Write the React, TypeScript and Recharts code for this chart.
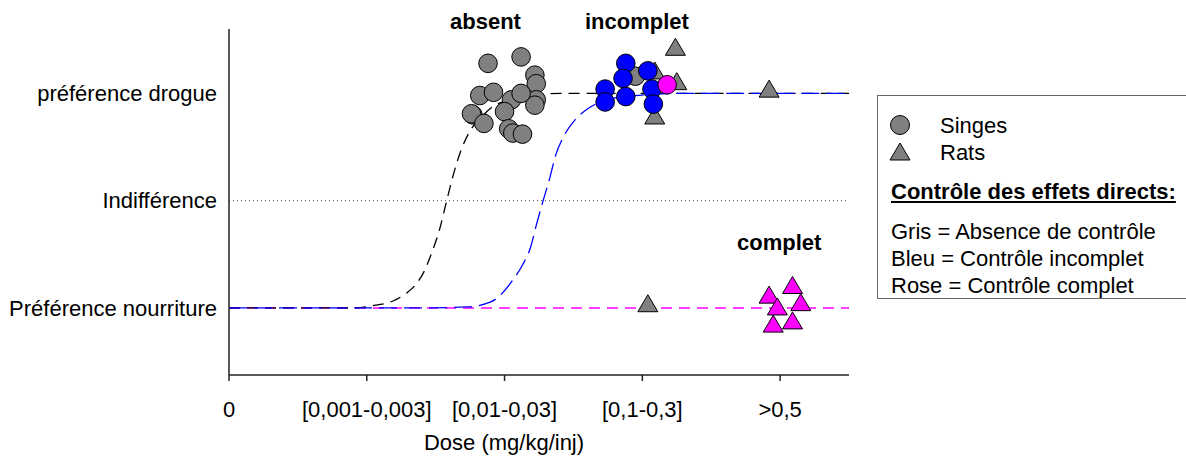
import React from "react";
import { ComposedChart, XAxis, YAxis, Scatter, Line, ReferenceLine } from "recharts";

const FONT = "'Liberation Sans', Arial, sans-serif";

// axes
const doseLabels = ["0", "[0,001-0,003]", "[0,01-0,03]", "[0,1-0,3]", ">0,5"];
const prefLabels = ["Préférence nourriture", "Indifférence", "préférence drogue"];

// singes - contrôle absent (gris)
const singesGris = [
  { x: 1.88, y: 2.28 }, { x: 2.12, y: 2.34 }, { x: 2.22, y: 2.17 }, { x: 2.23, y: 2.09 },
  { x: 2.23, y: 1.94 }, { x: 2.22, y: 1.89 }, { x: 1.82, y: 1.98 }, { x: 1.92, y: 2.01 },
  { x: 2.05, y: 1.94 }, { x: 2.12, y: 2.0 }, { x: 1.77, y: 1.8 }, { x: 1.76, y: 1.81 },
  { x: 1.85, y: 1.72 }, { x: 2.0, y: 1.83 }, { x: 2.03, y: 1.67 }, { x: 2.06, y: 1.63 },
  { x: 2.13, y: 1.62 }, { x: 2.95, y: 2.16 },
];
// singes - contrôle incomplet (bleu)
const singesBleu = [
  { x: 2.88, y: 2.28 }, { x: 2.86, y: 2.14 }, { x: 2.73, y: 2.04 }, { x: 2.73, y: 1.92 },
  { x: 2.88, y: 1.97 }, { x: 3.04, y: 2.21 }, { x: 3.07, y: 2.04 }, { x: 3.08, y: 1.9 },
];
// singes - contrôle complet (rose)
const singesRose = [{ x: 3.18, y: 2.08 }];
// rats
const ratsGris = [
  { x: 3.24, y: 2.42 }, { x: 3.25, y: 2.1 }, { x: 3.09, y: 2.2 }, { x: 3.09, y: 1.78 },
  { x: 3.92, y: 2.03 }, { x: 3.04, y: 0.03 },
];
const ratsRose = [
  { x: 4.09, y: 0.2 }, { x: 3.92, y: 0.11 }, { x: 4.15, y: 0.04 }, { x: 3.98, y: 0.0 },
  { x: 3.95, y: -0.16 }, { x: 4.09, y: -0.13 },
];

// courbes
const courbeGris = [
  { x: 0, y: 0 }, { x: 0.88, y: 0 }, { x: 1.04, y: 0.02 }, { x: 1.19, y: 0.065 },
  { x: 1.29, y: 0.14 }, { x: 1.35, y: 0.21 }, { x: 1.42, y: 0.35 }, { x: 1.47, y: 0.51 },
  { x: 1.53, y: 0.74 }, { x: 1.58, y: 1.0 }, { x: 1.63, y: 1.25 }, { x: 1.69, y: 1.49 },
  { x: 1.75, y: 1.65 }, { x: 1.84, y: 1.79 }, { x: 1.93, y: 1.89 }, { x: 2.04, y: 1.94 },
  { x: 2.19, y: 1.98 }, { x: 2.4, y: 2.0 }, { x: 4.5, y: 2.0 },
];
const courbeBleu = [
  { x: 0, y: 0 }, { x: 1.39, y: 0 }, { x: 1.73, y: 0.01 }, { x: 1.9, y: 0.056 },
  { x: 1.97, y: 0.12 }, { x: 2.06, y: 0.26 }, { x: 2.13, y: 0.4 }, { x: 2.19, y: 0.57 },
  { x: 2.23, y: 0.77 }, { x: 2.28, y: 1.0 }, { x: 2.33, y: 1.22 }, { x: 2.37, y: 1.42 },
  { x: 2.43, y: 1.6 }, { x: 2.51, y: 1.75 }, { x: 2.62, y: 1.87 }, { x: 2.73, y: 1.935 },
  { x: 2.88, y: 1.97 }, { x: 3.06, y: 1.99 }, { x: 3.27, y: 2.0 }, { x: 4.5, y: 2.0 },
];

const GRIS = "#808080";
const BLEU = "#0000ff";
const ROSE = "#ff00ff";

const rond = (fill: string) => (p: any) => (
  <circle cx={p.cx} cy={p.cy} r={9.3} fill={fill} stroke="#000" strokeWidth={1} />
);
const triangle = (fill: string) => (p: any) => (
  <polygon
    points={`${p.cx},${p.cy - 10} ${p.cx - 10},${p.cy + 7} ${p.cx + 10},${p.cy + 7}`}
    fill={fill}
    stroke="#000"
    strokeWidth={1}
  />
);

const txt: React.CSSProperties = {
  position: "absolute",
  fontFamily: FONT,
  fontSize: 22,
  color: "#000",
  whiteSpace: "nowrap",
  lineHeight: "24px",
};

export default function App() {
  return (
    <div style={{ position: "absolute", left: 0, top: 0, width: 1186, height: 461, background: "#fff", overflow: "hidden" }}>
      <ComposedChart
        width={1186}
        height={461}
        margin={{ top: 29, right: 337, bottom: 0, left: 0 }}
        style={{ fontFamily: FONT }}
      >
        <XAxis
          type="number"
          dataKey="x"
          domain={[0, 4.5]}
          ticks={[0, 1, 2, 3, 4]}
          tickFormatter={(v: number) => doseLabels[v]}
          height={86}
          tickSize={6}
          tickMargin={20}
          axisLine={{ stroke: "#222", strokeWidth: 1.5 }}
          tickLine={{ stroke: "#222", strokeWidth: 1.5 }}
          tick={{ fill: "#000", fontSize: 22 }}
          allowDataOverflow
        />
        <YAxis
          type="number"
          dataKey="y"
          domain={[-0.625, 2.6]}
          ticks={[0, 1, 2]}
          tickFormatter={(v: number) => prefLabels[v]}
          width={229}
          tickSize={0}
          tickMargin={12}
          tickLine={false}
          axisLine={{ stroke: "#222", strokeWidth: 1.5 }}
          tick={{ fill: "#000", fontSize: 22 }}
          allowDataOverflow
        />
        <ReferenceLine y={1} stroke="#444" strokeDasharray="1 3" strokeWidth={1} />
        <Scatter data={ratsGris} shape={triangle(GRIS)} isAnimationActive={false} />
        <Scatter data={singesGris} shape={rond(GRIS)} isAnimationActive={false} />
        <Scatter data={singesBleu} shape={rond(BLEU)} isAnimationActive={false} />
        <Scatter data={singesRose} shape={rond(ROSE)} isAnimationActive={false} />
        <Scatter data={ratsRose} shape={triangle(ROSE)} isAnimationActive={false} />
        <ReferenceLine y={0} stroke={ROSE} strokeDasharray="11 7" strokeWidth={1.5} />
        <Line data={courbeGris} dataKey="y" type="monotone" stroke="#000" strokeWidth={1.3} strokeDasharray="11 7" dot={false} isAnimationActive={false} />
        <Line data={courbeBleu} dataKey="y" type="monotone" stroke={BLEU} strokeWidth={1.3} strokeDasharray="18 7" dot={false} isAnimationActive={false} />
      </ComposedChart>

      <div style={{ ...txt, fontWeight: "bold", left: 450, top: 10 }}>absent</div>
      <div style={{ ...txt, fontWeight: "bold", left: 585, top: 10 }}>incomplet</div>
      <div style={{ ...txt, fontWeight: "bold", left: 737, top: 231 }}>complet</div>
      <div style={{ ...txt, left: 504, top: 431, transform: "translateX(-50%)" }}>Dose (mg/kg/inj)</div>

      <div
        style={{
          position: "absolute",
          left: 877,
          top: 95,
          width: 330,
          height: 204,
          border: "1.5px solid #666",
          boxSizing: "border-box",
        }}
      />
      <svg style={{ position: "absolute", left: 0, top: 0 }} width={1186} height={461}>
        <circle cx={900} cy={125} r={9.5} fill={GRIS} stroke="#000" strokeWidth={1} />
        <polygon points="900,143 890,160 910,160" fill={GRIS} stroke="#000" strokeWidth={1} />
      </svg>
      <div style={{ ...txt, left: 940, top: 114 }}>Singes</div>
      <div style={{ ...txt, left: 940, top: 141 }}>Rats</div>
      <div style={{ ...txt, left: 891, top: 180, fontWeight: "bold", textDecoration: "underline" }}>
        Contrôle des effets directs:
      </div>
      <div style={{ ...txt, left: 891, top: 220 }}>Gris = Absence de contrôle</div>
      <div style={{ ...txt, left: 891, top: 247 }}>Bleu = Contrôle incomplet</div>
      <div style={{ ...txt, left: 891, top: 274 }}>Rose = Contrôle complet</div>
    </div>
  );
}
